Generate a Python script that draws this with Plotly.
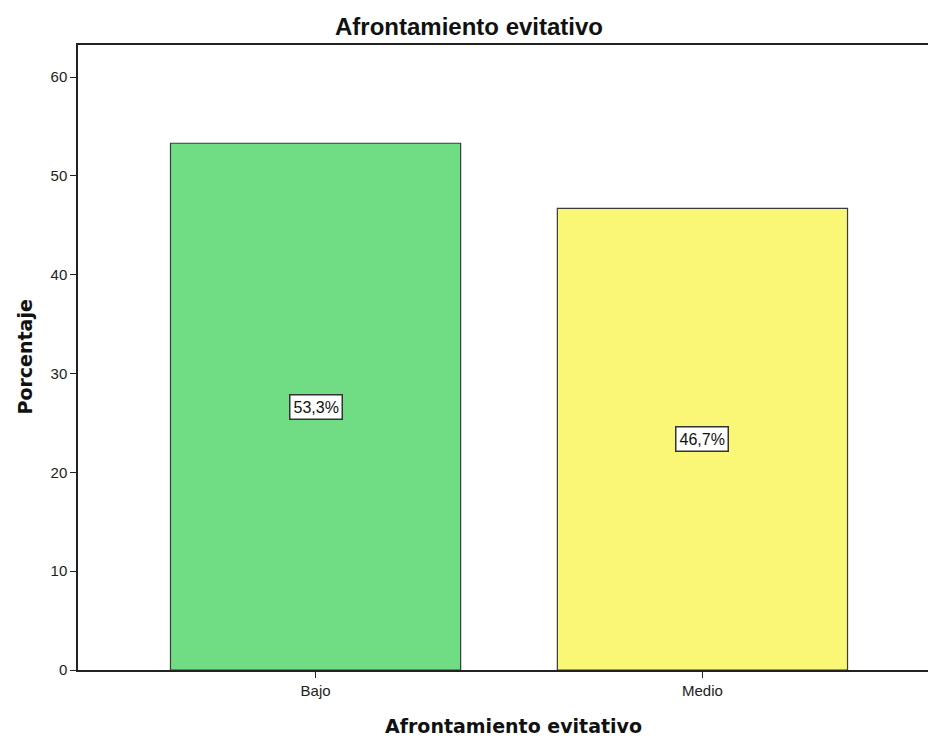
import plotly.graph_objects as go

# Data
categories = ["Bajo", "Medio"]
percentages = [53.3, 46.7]
bar_colors = ["#70DC84", "#F9F775"]
y_ticks = [0, 10, 20, 30, 40, 50, 60]

labels = [f"{v:.1f}%".replace(".", ",") for v in percentages]

SANS = "Liberation Sans, Arial"
BOLD = "DejaVu Sans, Liberation Sans"

fig = go.Figure()
fig.add_trace(go.Bar(
    x=categories,
    y=percentages,
    width=0.75,
    marker=dict(color=bar_colors, line=dict(color="#3a3a3a", width=1.2)),
    hoverinfo="skip",
))

# Boxed value labels in the middle of each bar
for cat, val, lab in zip(categories, percentages, labels):
    fig.add_annotation(
        x=cat, y=val / 2, text=lab, showarrow=False,
        font=dict(family=SANS, size=16, color="#111"),
        bgcolor="white", bordercolor="#333", borderwidth=1.5, borderpad=3,
    )

# Axis titles placed in page coordinates
fig.add_annotation(
    text="<b>Afrontamiento evitativo</b>", xref="paper", yref="paper",
    x=(513 - 78) / 850, y=-(726 - 670) / 625, xanchor="center", yanchor="middle",
    showarrow=False, font=dict(family=BOLD, size=19, color="#111"),
)
fig.add_annotation(
    text="<b>Porcentaje</b>", xref="paper", yref="paper",
    x=-(78 - 24) / 850, y=0.5, xanchor="center", yanchor="middle",
    textangle=-90, showarrow=False, font=dict(family=BOLD, size=19, color="#111"),
)

fig.update_layout(
    width=928, height=738,
    margin=dict(l=78, r=0, t=45, b=68),
    paper_bgcolor="white", plot_bgcolor="white",
    showlegend=False,
    title=dict(
        text="<b>Afrontamiento evitativo</b>",
        x=469 / 928, xanchor="center", y=1 - 27 / 738, yanchor="middle",
        font=dict(family=SANS, size=24, color="#111"),
    ),
    xaxis=dict(
        range=[-0.614, 1.583],
        showline=True, linecolor="#222", linewidth=1.5, mirror=True,
        ticks="outside", ticklen=6, tickcolor="#222",
        tickfont=dict(family=SANS, size=15, color="#222"),
        showgrid=False, zeroline=False,
    ),
    yaxis=dict(
        range=[0, 63.24],
        tickvals=y_ticks,
        showline=True, linecolor="#222", linewidth=1.5,
        ticks="outside", ticklen=6, tickcolor="#222",
        tickfont=dict(family=SANS, size=15, color="#222"),
        showgrid=False, zeroline=False,
    ),
)

fig.write_html("out.html")
